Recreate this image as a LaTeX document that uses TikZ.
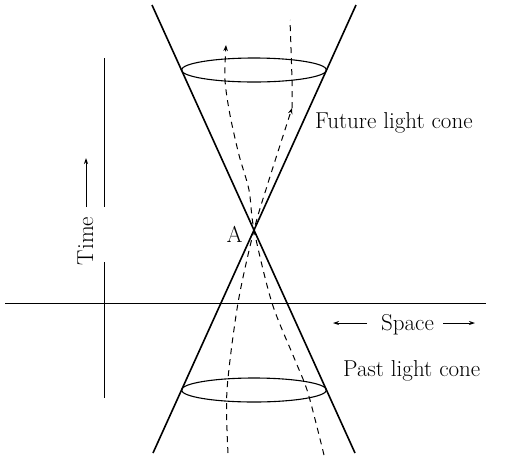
\documentclass[tikz,border=0pt]{standalone}
\usetikzlibrary{arrows.meta}
\begin{document}
\begin{tikzpicture}[x=1pt,y=-1pt,
  cone/.style={line width=1.6pt},
  rim/.style={line width=1.1pt},
  axis/.style={line width=0.9pt},
  world/.style={line width=1pt, dash pattern=on 6pt off 5pt},
  tip/.style={-{Stealth[length=6pt,width=4.5pt]}},
  smalltip/.style={line width=0.8pt,-{Stealth[length=6pt,width=4pt]}},
  lbl/.style={inner sep=0pt, font=\fontsize{23}{27}\selectfont}]
\useasboundingbox (0,0) rectangle (506,456);
% apex and cone ends
\coordinate (A) at (254,230);
\coordinate (TL) at (152,5);
\coordinate (TR) at (356,5);
\coordinate (BL) at (153,453);
\coordinate (BR) at (355,453);
\draw[cone] (TL) -- (BR);
\draw[cone] (TR) -- (BL);
% rims
\coordinate (Fc) at (254,70);
\coordinate (Pc) at (254,390);
\draw[rim] (Fc) ellipse [x radius=72.5, y radius=12];
\draw[rim] (Pc) ellipse [x radius=72.5, y radius=12];
% axes
\coordinate (H1) at (5,303);
\coordinate (H2) at (486,303);
\draw[axis] (H1) -- (H2);
\coordinate (V1) at (104,58);
\coordinate (V2) at (104,207);
\coordinate (V3) at (104,262);
\coordinate (V4) at (104,398);
\draw[axis] (V1) -- (V2);
\draw[axis] (V3) -- (V4);
% world lines
\coordinate (W1) at (292,108);
\coordinate (W1top) at (290,20);
\draw[world,tip] plot[smooth] coordinates {(228,453) (227,390) (238,303) (A) (268,183) (W1)};
\draw[world] plot[smooth] coordinates {(W1) (292,80) (W1top)};
\coordinate (W2) at (226,45);
\draw[world,tip] plot[smooth] coordinates {(324,455) (308,393) (295,360) (272,303) (A) (249,190) (239,155) (230,115) (225,80) (W2)};
% labels
\node[lbl, anchor=base west] (future) at (315,128) {Future light cone};
\node[lbl, anchor=base west] (past) at (343,376) {Past light cone};
\node[lbl, anchor=base] (space) at (407.5,330) {Space};
\node[lbl, anchor=base, rotate=90] (time) at (93,241) {Time};
\node[lbl, anchor=base] (alabel) at (234.5,242) {A};
% label arrows
\coordinate (SLa) at (367,323);
\coordinate (SLb) at (333,323);
\coordinate (SRa) at (443,323);
\coordinate (SRb) at (475,323);
\draw[smalltip] (SLa) -- (SLb);
\draw[smalltip] (SRa) -- (SRb);
\coordinate (Ta) at (86,207);
\coordinate (Tb) at (86,158);
\draw[smalltip] (Ta) -- (Tb);
\end{tikzpicture}
\end{document}
